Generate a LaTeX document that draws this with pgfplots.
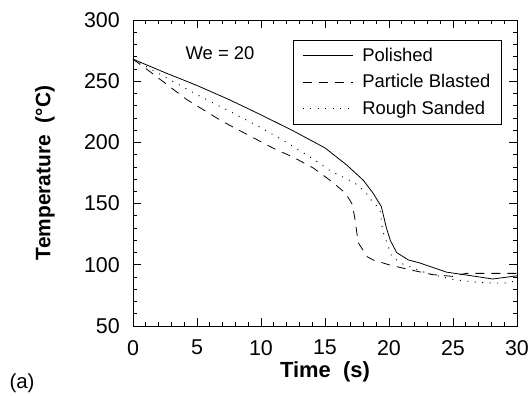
\documentclass[border=0pt]{standalone}
\usepackage{pgfplots}
\pgfplotsset{compat=1.18}
\usepackage{fontspec}
\setmainfont{Liberation Sans}
\begin{document}
\begin{tikzpicture}
\begin{axis}[
  scale only axis,
  width=384bp, height=306bp,
  xmin=0, xmax=30, ymin=50, ymax=300,
  xtick={0,5,...,30}, ytick={50,100,...,300},
  minor x tick num=4, minor y tick num=4,
  tick align=inside,
  major tick length=8bp, minor tick length=4bp,
  axis line style={line width=0.9bp},
  every tick/.style={black, line width=0.7bp},
  /pgf/number format/assume math mode=true,
  tick label style={font=\fontsize{21.5}{23}\selectfont},
  xticklabel style={anchor=north, inner sep=0pt, yshift=-14bp},
  yticklabel style={anchor=east, inner sep=0pt, xshift=-13bp},
  xlabel={\textbf{Time\ \ (s)}},
  ylabel={\textbf{Temperature\ \ (°C)}},
  xlabel style={font=\fontsize{22}{24}\selectfont, at={(axis description cs:0.5,-0.15)}, anchor=center},
  ylabel style={font=\fontsize{21}{23}\selectfont, at={(axis description cs:-0.229,0.5)}, anchor=center},
  legend style={at={(rel axis cs:0.96,0.9346)}, anchor=north east, draw=black, line width=0.6bp,
    font=\fontsize{18.5}{20}\selectfont, row sep=7.5bp, inner xsep=9bp, inner ysep=6bp,
    /tikz/every odd column/.append style={column sep=7bp}},
  legend cell align=left,
  legend image code/.code={\draw[#1] (0bp,0bp) -- (50bp,0bp);},
  clip=false,
]
\addplot[black, line width=0.8bp] coordinates {
(0,268) (2.5,257) (5,246.5) (7.5,235) (10,222.5) (12.5,209.5) (15,195.5) (16.7,181.5) (18,169) (18.75,158.6) (19.4,147.6) (19.8,130) (20.1,120) (20.6,110) (21.5,104) (22.4,101.5) (24.5,94) (27.1,90) (28.1,88.4) (30,91)};
\addlegendentry{Polished}
\addplot[black, line width=0.8bp, dash pattern=on 9bp off 7bp] coordinates {
(0,268) (1.3,258) (4.2,235) (7,217) (11,195) (12.5,188) (14.1,179) (15.4,169) (16.6,158.6) (17.1,150) (17.3,140) (17.6,118) (18.3,106.6) (18.75,104) (20,100) (21.6,96) (23.4,92) (25,90.5) (26,93) (28.6,93) (30,93)};
\addlegendentry{Particle Blasted}
\addplot[black, line width=0.9bp, dash pattern=on 1bp off 6.5bp] coordinates {
(0,268) (2.4,254) (5,239) (8,223) (10,212) (12,200) (14,187) (15.4,177) (17.3,167) (18.1,160) (18.6,153) (19.3,145) (19.5,128) (20.2,107) (21,101) (22,97) (23,93) (25,88) (27,85.5) (29,85) (30,87)};
\addlegendentry{Rough Sanded}
\node[font=\fontsize{18.5}{20}\selectfont] at (axis cs:6.8,272.8) {We = 20};
\node[font=\fontsize{20.5}{22}\selectfont, anchor=center] at ([xshift=-111bp,yshift=-57bp]rel axis cs:0,0) {(a)};
\path ([xshift=-133bp,yshift=20bp]rel axis cs:0,1) -- ([xshift=15bp,yshift=-65bp]rel axis cs:1,0);
\end{axis}
\end{tikzpicture}
\end{document}
